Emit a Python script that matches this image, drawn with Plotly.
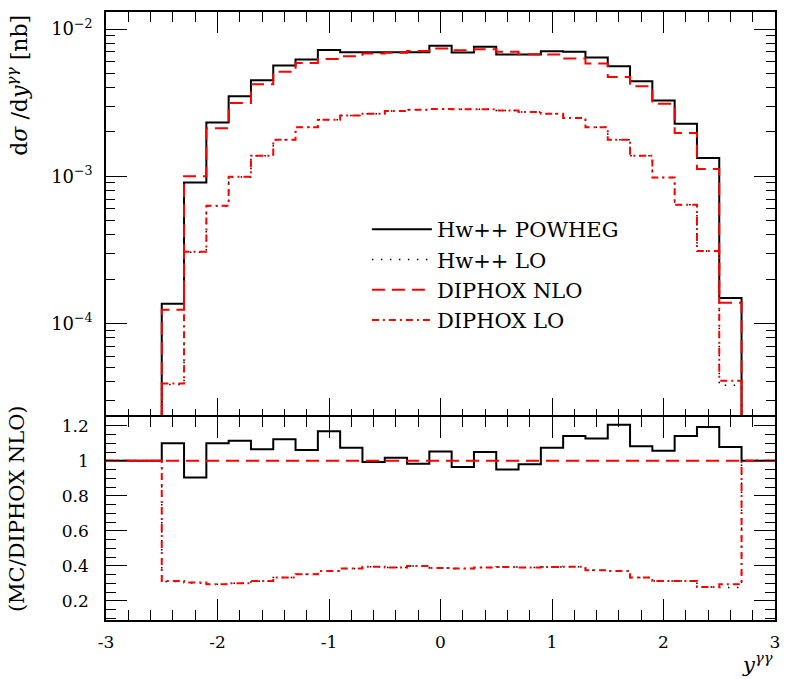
import plotly.graph_objects as go

# ---------------- data ----------------
# bin edges of rapidity y^{gamma gamma}: -2.5 ... 2.7 in steps of 0.2 (26 bins)
edges = [round(-2.5 + 0.2 * k, 1) for k in range(27)]
x_lo, x_hi = -3.0, 3.0
zero = 1e-9  # empty bins (zero cross section)

powheg = [1.36e-4, 9.08e-4, 2.32e-3, 3.49e-3, 4.49e-3, 5.65e-3, 6.21e-3, 7.22e-3,
          6.96e-3, 6.96e-3, 6.96e-3, 6.96e-3, 7.69e-3, 6.93e-3, 7.57e-3, 6.71e-3,
          6.71e-3, 7.07e-3, 7.00e-3, 6.41e-3, 5.58e-3, 4.42e-3, 3.27e-3, 2.27e-3,
          1.33e-3, 1.49e-4]
hw_lo = [3.85e-5, 3.05e-4, 6.25e-4, 9.90e-4, 1.38e-3, 1.77e-3, 2.15e-3, 2.42e-3,
         2.59e-3, 2.66e-3, 2.77e-3, 2.83e-3, 2.86e-3, 2.85e-3, 2.85e-3, 2.80e-3,
         2.73e-3, 2.66e-3, 2.49e-3, 2.15e-3, 1.77e-3, 1.38e-3, 9.80e-4, 6.40e-4,
         3.10e-4, 3.80e-5]
dip_nlo = [1.24e-4, 1.00e-3, 2.12e-3, 3.14e-3, 4.22e-3, 5.12e-3, 5.89e-3, 6.27e-3,
           6.54e-3, 6.83e-3, 6.90e-3, 7.10e-3, 7.38e-3, 7.19e-3, 7.30e-3, 7.00e-3,
           6.75e-3, 6.71e-3, 6.31e-3, 5.83e-3, 4.72e-3, 4.08e-3, 3.11e-3, 1.97e-3,
           1.12e-3, 1.38e-4]
dip_lo = [3.90e-5, 3.07e-4, 6.30e-4, 9.93e-4, 1.38e-3, 1.77e-3, 2.15e-3, 2.42e-3,
          2.59e-3, 2.66e-3, 2.77e-3, 2.83e-3, 2.86e-3, 2.85e-3, 2.85e-3, 2.80e-3,
          2.73e-3, 2.66e-3, 2.49e-3, 2.15e-3, 1.77e-3, 1.38e-3, 9.80e-4, 6.40e-4,
          3.10e-4, 4.08e-5]

# ratios MC / DIPHOX NLO
r_powheg = [1.100, 0.904, 1.100, 1.115, 1.066, 1.123, 1.062, 1.169, 1.075, 0.993,
            1.018, 0.984, 1.053, 0.965, 1.050, 0.950, 0.980, 1.075, 1.142, 1.127,
            1.207, 1.083, 1.058, 1.142, 1.193, 1.079]
r_hw_lo = [0.310, 0.302, 0.294, 0.300, 0.312, 0.333, 0.351, 0.370, 0.384, 0.395,
           0.390, 0.399, 0.388, 0.384, 0.390, 0.393, 0.390, 0.393, 0.395, 0.374,
           0.370, 0.333, 0.313, 0.313, 0.279, 0.276]
r_dip_nlo = [1.0] * 26
r_dip_lo = [0.313, 0.304, 0.294, 0.300, 0.313, 0.333, 0.351, 0.370, 0.384, 0.395,
            0.390, 0.399, 0.388, 0.384, 0.390, 0.393, 0.390, 0.393, 0.395, 0.374,
            0.370, 0.333, 0.313, 0.313, 0.279, 0.294]

names = ["Hw++ POWHEG", "Hw++ LO", "DIPHOX NLO", "DIPHOX LO"]
x_ticks = [-3, -2, -1, 0, 1, 2, 3]
x_ticktext = ["-3", "-2", "-1", "0", "1", "2", "3"]
y_ticks = [1e-4, 1e-3, 1e-2]
y_ticktext = ["10<sup>−4</sup>", "10<sup>−3</sup>", "10<sup>−2</sup>"]
r_ticks = [0.2, 0.4, 0.6, 0.8, 1.0, 1.2]
r_ticktext = ["0.2", "0.4", "0.6", "0.8", "1", "1.2"]

# ---------------- helpers ----------------
step_x = [x_lo] + edges + [x_hi]


def step_y(vals, outside):
    return [outside] + list(vals) + [outside, outside]


styles = [
    dict(color="black", width=2, dash="solid"),
    dict(color="black", width=1.5, dash="1.5px,7.5px"),
    dict(color="red", width=2, dash="13px,7px"),
    dict(color="red", width=2, dash="7px,4px,2px,4px"),
]

FONT = "DejaVu Serif"

fig = go.Figure()
for i, (name, vals) in enumerate(zip(names, [powheg, hw_lo, dip_nlo, dip_lo])):
    fig.add_trace(go.Scatter(
        x=step_x, y=step_y(vals, zero), mode="lines", line_shape="hv",
        line=styles[i], name=name, legendgroup=name, showlegend=True,
        xaxis="x", yaxis="y"))
for i, (name, vals) in enumerate(zip(names, [r_powheg, r_hw_lo, r_dip_nlo, r_dip_lo])):
    fig.add_trace(go.Scatter(
        x=step_x, y=step_y(vals, 1.0), mode="lines", line_shape="hv",
        line=styles[i], name=name, legendgroup=name, showlegend=False,
        xaxis="x2", yaxis="y2"))

common_x = dict(range=[x_lo, x_hi], tickmode="array", tickvals=x_ticks,
                ticks="inside", ticklen=21, tickwidth=1, tickcolor="black",
                minor=dict(dtick=0.2, tick0=0, ticks="inside", ticklen=10,
                           tickcolor="black", tickwidth=1, showgrid=False),
                showline=True, linecolor="black", linewidth=1.5, mirror="allticks",
                showgrid=False, zeroline=False)

minor_log = [m * 10.0 ** e for e in (-5, -4, -3, -2) for m in range(2, 10)]

fig.update_layout(
    width=785, height=679,
    margin=dict(l=106, r=5, t=12, b=59),
    paper_bgcolor="white", plot_bgcolor="white",
    font=dict(family=FONT, color="black", size=17),
    showlegend=True,
    legend=dict(x=0.39, y=0.676, xanchor="left", yanchor="top",
                bgcolor="rgba(0,0,0,0)", borderwidth=0,
                font=dict(family=FONT, size=21, color="black"),
                itemwidth=60, tracegroupgap=0),
    xaxis=dict(common_x, domain=[0, 1], anchor="y", showticklabels=False,
               matches="x2"),
    xaxis2=dict(common_x, domain=[0, 1], anchor="y2", ticktext=x_ticktext,
                showticklabels=True, ticklabelstandoff=6,
                tickfont=dict(family=FONT, size=17)),
    yaxis=dict(type="log", domain=[0.3317, 1], anchor="x",
               range=[-4.645, -1.884], tickmode="array", tickvals=y_ticks,
               ticktext=y_ticktext, ticks="inside", ticklen=21, tickcolor="black",
               minor=dict(tickmode="array", tickvals=minor_log, ticks="inside",
                          ticklen=9, tickcolor="black", showgrid=False),
               showline=True, linecolor="black", linewidth=1.5, mirror="allticks",
               showgrid=False, zeroline=False, ticklabelstandoff=8,
               tickfont=dict(family=FONT, size=18)),
    yaxis2=dict(domain=[0, 0.334], anchor="x2", range=[0.09, 1.251],
                tickmode="array", tickvals=r_ticks, ticktext=r_ticktext,
                ticks="inside", ticklen=21, tickcolor="black",
                minor=dict(dtick=0.05, tick0=0, ticks="inside", ticklen=10,
                           tickcolor="black", showgrid=False),
                showline=True, linecolor="black", linewidth=1.5, mirror="allticks",
                showgrid=False, zeroline=False, ticklabelstandoff=12,
                tickfont=dict(family=FONT, size=17)),
)

fig.add_annotation(text="d<i>σ</i> /d<i>y</i><sup><i>γγ</i></sup> [nb]",
                   xref="paper", yref="paper", x=-0.133, y=0.998,
                   xanchor="center", yanchor="top", textangle=-90,
                   showarrow=False, font=dict(family=FONT, size=22))
fig.add_annotation(text="(MC/DIPHOX NLO)",
                   xref="paper", yref="paper", x=-0.133, y=0.356,
                   xanchor="center", yanchor="top", textangle=-90,
                   showarrow=False, font=dict(family=FONT, size=21))
fig.add_annotation(text="<i>y</i><sup><i>γγ</i></sup>",
                   xref="paper", yref="paper", x=1.0, y=-0.044,
                   xanchor="right", yanchor="top",
                   showarrow=False, font=dict(family=FONT, size=21))

fig.write_html("out.html")
